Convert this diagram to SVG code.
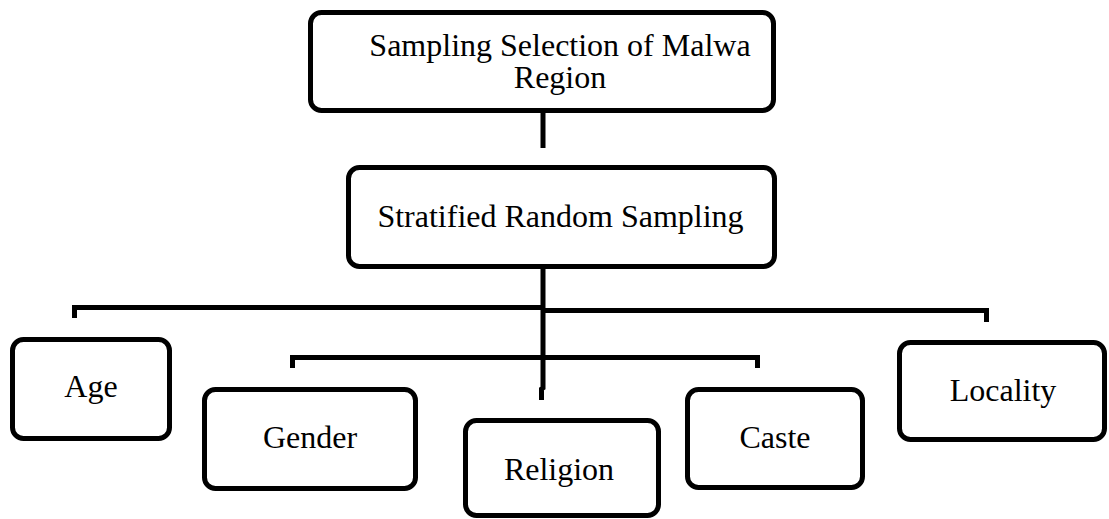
<svg xmlns="http://www.w3.org/2000/svg" width="1109" height="519" viewBox="0 0 1109 519">
  <style>
    .box { fill: #ffffff; stroke: #000000; stroke-width: 5; }
    .lbl { font-family: "Liberation Serif", "Times New Roman", serif; font-size: 32px; fill: #000000; text-anchor: middle; }
    .wire { fill: none; stroke: #000000; stroke-width: 5; stroke-linejoin: miter; stroke-linecap: butt; }
    .ghost { fill: none; stroke: #e4e4e4; stroke-width: 5; }
  </style>
  <rect width="1109" height="519" fill="#ffffff"/>

  <g id="connectors">
    <!-- stubs leaving the two upper boxes -->
    <line class="ghost" x1="543" y1="97" x2="543" y2="111"/>
    <line class="wire" x1="543" y1="111" x2="543" y2="148"/>
    <line class="ghost" x1="543" y1="252" x2="543" y2="267"/>
    <!-- trunk down from Stratified Random Sampling -->
    <path class="wire" d="M543 267 V388 L541.5 389 V400"/>
    <!-- outer branch: Age / Locality -->
    <path class="wire" d="M74.5 318 V307.5 H543"/>
    <path class="wire" d="M543 310.5 H986.5 V322"/>
    <!-- inner branch: Gender / Caste -->
    <path class="wire" d="M292.5 368 V357.5 H757.5 V368"/>
  </g>

  <g id="node-malwa">
    <rect class="box" x="310.5" y="12.5" width="463" height="98" rx="11"/>
    <text class="lbl" x="560" y="56">Sampling Selection of Malwa</text>
    <text class="lbl" x="560" y="88">Region</text>
  </g>

  <g id="node-stratified">
    <rect class="box" x="348.5" y="167.5" width="426" height="99" rx="11"/>
    <text class="lbl" x="560.5" y="227">Stratified Random Sampling</text>
  </g>

  <g id="node-age">
    <rect class="box" x="12.5" y="339.5" width="157" height="99" rx="11"/>
    <text class="lbl" x="91" y="397">Age</text>
  </g>

  <g id="node-gender">
    <rect class="box" x="204.5" y="389.5" width="211" height="99" rx="11"/>
    <text class="lbl" x="310" y="448">Gender</text>
  </g>

  <g id="node-religion">
    <rect class="box" x="465.5" y="420.5" width="193" height="95" rx="11"/>
    <text class="lbl" x="559" y="480">Religion</text>
  </g>

  <g id="node-caste">
    <rect class="box" x="687.5" y="389.5" width="175" height="98" rx="11"/>
    <text class="lbl" x="775" y="448">Caste</text>
  </g>

  <g id="node-locality">
    <rect class="box" x="899.5" y="342.5" width="205" height="97" rx="11"/>
    <text class="lbl" x="1003" y="401">Locality</text>
  </g>
</svg>
